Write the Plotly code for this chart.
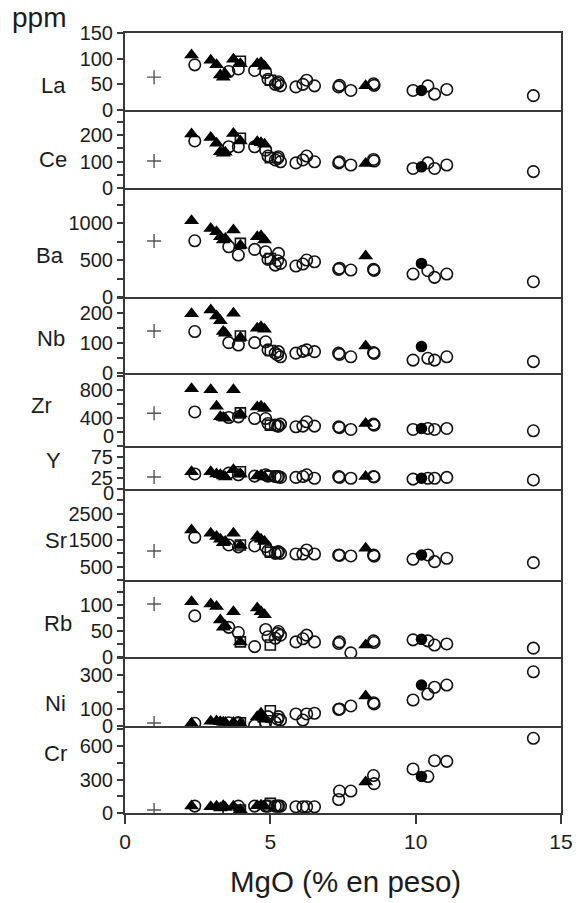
import plotly.graph_objects as go
from plotly.subplots import make_subplots

elements = ["La", "Ce", "Ba", "Nb", "Zr", "Y", "Sr", "Rb", "Ni", "Cr"]

# ---------------- open circles ----------------
circle_mgo = [2.40, 3.57, 3.90, 4.46, 4.84, 4.92, 5.17, 5.25, 5.28, 5.35, 5.88, 6.12,
              6.25, 6.52, 7.35, 7.38, 7.77, 8.55, 8.57, 9.91, 10.42, 10.65, 11.07, 14.05]
circle_La = [88, 75, 80, 77, 73, 60, 50, 52, 55, 47, 45, 50, 58, 47, 45, 48, 38, 51, 48, 38, 47, 31, 40, 28]
circle_Ce = [178, 156, 156, 156, 143, 121, 106, 112, 118, 99, 95, 106, 121, 99, 95, 99, 87, 108, 102, 74, 95, 74, 87, 62]
circle_Ba = [761, 680, 568, 644, 612, 509, 432, 491, 590, 455, 419, 446, 500, 477, 374, 390, 365, 374, 360, 311, 356, 266, 311, 207]
circle_Nb = [138, 101, 93, 101, 104, 77, 66, 60, 71, 54, 66, 72, 77, 71, 66, 62, 54, 68, 65, 43, 49, 43, 54, 38]
circle_Zr = [490, 410, 419, 395, 395, 324, 300, 290, 286, 314, 276, 286, 348, 286, 276, 265, 238, 314, 300, 238, 252, 238, 252, 219]
circle_Y = [35, 37, 33, 30, 33, 30, 29, 28, 29, 27, 27, 29, 33, 25, 29, 27, 25, 29, 28, 23, 25, 25, 27, 21]
circle_Sr = [1610, 1320, 1250, 1282, 1257, 1106, 1005, 1040, 1068, 1005, 980, 980, 1131, 980, 943, 930, 905, 943, 900, 780, 943, 691, 817, 654]
circle_Rb = [79, 57, 47, 20, 53, 39, 36, 45, 49, 42, 29, 35, 42, 29, 26, 29, 8, 31, 28, 33, 31, 23, 25, 17]
circle_Ni = [16, 19, 20, 3, 21, 55, 21, 40, 55, 35, 71, 35, 71, 75, 98, 100, 118, 137, 130, 153, 188, 228, 241, 319]
circle_Cr = [62, 5, 62, 62, 62, 62, 62, 62, 62, 62, 56, 56, 56, 56, 121, 197, 197, 336, 263, 395, 327, 469, 463, 670]

# ---------------- filled triangles ----------------
triangle_mgo = [2.29, 2.95, 3.15, 3.28, 3.38, 3.45, 3.73, 3.97, 4.55, 4.68, 4.80, 8.28]
triangle_La = [107, 97, 88, 68, 64, 70, 99, 90, 90, 92, 85, 47]
triangle_Ce = [204, 191, 169, 137, 131, 135, 206, 178, 175, 171, 165, 93]
triangle_Ba = [1031, 928, 883, 815, 770, 790, 905, 700, 815, 824, 770, 554]
triangle_Nb = [197, 210, 190, 174, 138, 132, 199, 118, 149, 154, 146, 90]
triangle_Zr = [824, 810, 571, 419, 410, 400, 810, 460, 562, 571, 538, 324]
triangle_Y = [40, 40, 35, 33, 30, 28, 45, 35, 30, 32, 28, 29]
triangle_Sr = [1887, 1760, 1635, 1535, 1407, 1450, 1760, 1300, 1635, 1535, 1450, 1194]
triangle_Rb = [106, 102, 97, 71, 57, 60, 87, 29, 94, 87, 81, 23]
triangle_Ni = [16, 28, 30, 25, 22, 20, 20, 15, 55, 75, 40, 176]
triangle_Cr = [62, 55, 60, 45, 65, 50, 60, 30, 65, 70, 60, 277]

# ---------------- open squares (values listed in element order) ----------------
square_mgo = [3.97, 5.00]
square_1 = [95, 188, 725, 123, 476, 40, 1320, 29, 19, 27]
square_2 = [58, 115, 520, 75, 300, 30, 1050, 23, 90, 86]

# ---------------- filled circle ----------------
filled_mgo = [10.2]
filled_vals = [38, 80, 455, 88, 252, 25, 943, 34, 241, 327]

# ---------------- "+" reference marks ----------------
plus_mgo = [1.0]
plus_vals = [64, 102, 757, 140, 472, 28, 1094, 102, 18, 27]

# ---------------- axes ----------------
y_max = [150, 295, 1475, 253, 1050, 100, 3430, 148, 406, 780]
y_tickvals = [
    [0, 50, 100, 150],
    [0, 50, 100, 150, 200, 250],
    [0, 250, 500, 750, 1000, 1250],
    [0, 50, 100, 150, 200, 250],
    [0, 200, 400, 600, 800, 1000],
    [0, 25, 50, 75, 100],
    [0, 500, 1000, 1500, 2000, 2500, 3000],
    [0, 25, 50, 75, 100, 125],
    [0, 100, 200, 300, 400],
    [0, 150, 300, 450, 600, 750],
]
y_ticktext = [
    ["0", "50", "100", "150"],
    ["0", "", "100", "", "200", ""],
    ["0", "", "500", "", "1000", ""],
    ["0", "", "100", "", "200", ""],
    ["", "", "400", "", "800", ""],
    ["", "25", "", "75", ""],
    ["", "500", "", "1500", "", "2500", ""],
    ["0", "", "50", "", "100", ""],
    ["0", "100", "", "300", ""],
    ["0", "", "300", "", "600", ""],
]
x_tickvals = [0, 5, 10, 15]
x_title = "MgO (% en peso)"
y_unit = "ppm"

# pixel layout (page coordinates)
W, H = 585, 903
plot_left, plot_right = 125, 569
bounds = [33, 110, 188, 297, 373, 446, 489, 580, 657, 726, 813]
L, R, T, B = plot_left, W - plot_right, bounds[0], H - bounds[-1]
row_h = [bounds[i + 1] - bounds[i] for i in range(10)]
plot_h = bounds[-1] - bounds[0]
plot_w = plot_right - plot_left

FONT = "Liberation Sans, Arial, sans-serif"
INK = "#1c1c1c"
LINE = "#3a3a3a"

fig = make_subplots(rows=10, cols=1, shared_xaxes=True, vertical_spacing=0,
                    row_heights=row_h)

circ = [circle_La, circle_Ce, circle_Ba, circle_Nb, circle_Zr, circle_Y, circle_Sr, circle_Rb, circle_Ni, circle_Cr]
tri = [triangle_La, triangle_Ce, triangle_Ba, triangle_Nb, triangle_Zr, triangle_Y, triangle_Sr, triangle_Rb, triangle_Ni, triangle_Cr]

for i, el in enumerate(elements):
    r = i + 1
    fig.add_trace(go.Scatter(x=plus_mgo, y=[plus_vals[i]], mode="markers",
                             marker=dict(symbol="cross-thin-open", size=10, color="#555",
                                         line=dict(width=1.4, color="#555")),
                             showlegend=False, hoverinfo="skip"), row=r, col=1)
    fig.add_trace(go.Scatter(x=circle_mgo, y=circ[i], mode="markers",
                             marker=dict(symbol="circle-open", size=11.5, color="#111",
                                         line=dict(width=1.6, color="#111")),
                             showlegend=False), row=r, col=1)
    fig.add_trace(go.Scatter(x=square_mgo, y=[square_1[i], square_2[i]], mode="markers",
                             marker=dict(symbol="square-open", size=10, color="#111",
                                         line=dict(width=1.6, color="#111")),
                             showlegend=False), row=r, col=1)
    fig.add_trace(go.Scatter(x=triangle_mgo, y=tri[i], mode="markers",
                             marker=dict(symbol="triangle-up", size=13, color="#000",
                                         line=dict(width=0)),
                             showlegend=False), row=r, col=1)
    fig.add_trace(go.Scatter(x=filled_mgo, y=[filled_vals[i]], mode="markers",
                             marker=dict(symbol="circle", size=11.5, color="#000",
                                         line=dict(width=0)),
                             showlegend=False), row=r, col=1)

    fig.update_yaxes(row=r, col=1, range=[0, y_max[i]], tickmode="array",
                     tickvals=y_tickvals[i], ticktext=y_ticktext[i],
                     ticks="outside", ticklen=6, tickwidth=1.5, tickcolor=LINE,
                     showline=True, linewidth=2, linecolor=LINE, mirror=True,
                     showgrid=False, zeroline=False,
                     tickfont=dict(family=FONT, size=20, color=INK))
    fig.update_xaxes(row=r, col=1, range=[0, 15], showgrid=False, zeroline=False,
                     showline=True, linewidth=2, linecolor=LINE,
                     mirror=(r == 1))
    if r == 10:
        fig.update_xaxes(row=r, col=1, tickmode="array", tickvals=x_tickvals,
                         ticktext=[str(v) for v in x_tickvals],
                         ticks="outside", ticklen=9, tickwidth=1.5, tickcolor=LINE,
                         showticklabels=True,
                         tickfont=dict(family=FONT, size=21, color=INK))
    else:
        fig.update_xaxes(row=r, col=1, ticks="", showticklabels=False)


def px2paper(px, py):
    return (px - plot_left) / plot_w, (bounds[-1] - py) / plot_h


# element labels (page pixel positions)
label_px = {"La": (67, 86), "Ce": (68, 159), "Ba": (65, 255), "Nb": (66, 338),
            "Zr": (53, 405), "Y": (62, 460), "Sr": (68, 540), "Rb": (73, 623),
            "Ni": (67, 703), "Cr": (68, 753)}
for el in elements:
    xx, yy = px2paper(*label_px[el])
    fig.add_annotation(x=xx, y=yy, xref="paper", yref="paper", text=el, showarrow=False,
                       xanchor="right", yanchor="middle",
                       font=dict(family=FONT, size=22, color=INK))

# zero labels that sit slightly off their tick in the reference
for (zx, zy) in [(116, 436), (116, 493)]:
    xx, yy = px2paper(zx, zy)
    fig.add_annotation(x=xx, y=yy, xref="paper", yref="paper", text="0", showarrow=False,
                       xanchor="right", yanchor="middle",
                       font=dict(family=FONT, size=20, color=INK))

# ppm
xx, yy = px2paper(8, 17)
fig.add_annotation(x=xx, y=yy, xref="paper", yref="paper", text=y_unit, showarrow=False,
                   xanchor="left", yanchor="middle",
                   font=dict(family=FONT, size=28, color=INK))
# x title
xx, yy = px2paper(350, 882)
fig.add_annotation(x=xx, y=yy, xref="paper", yref="paper", text=x_title, showarrow=False,
                   xanchor="center", yanchor="middle",
                   font=dict(family=FONT, size=29.5, color=INK))

fig.update_layout(width=W, height=H, margin=dict(l=L, r=R, t=T, b=B, pad=0),
                  paper_bgcolor="white", plot_bgcolor="white",
                  font=dict(family=FONT, color=INK), showlegend=False)

fig.write_html("out.html", config={"displayModeBar": False},
               post_script="document.body.style.margin='0px';"
                           "document.documentElement.style.overflow='hidden';"
                           "document.body.style.overflow='hidden';")
